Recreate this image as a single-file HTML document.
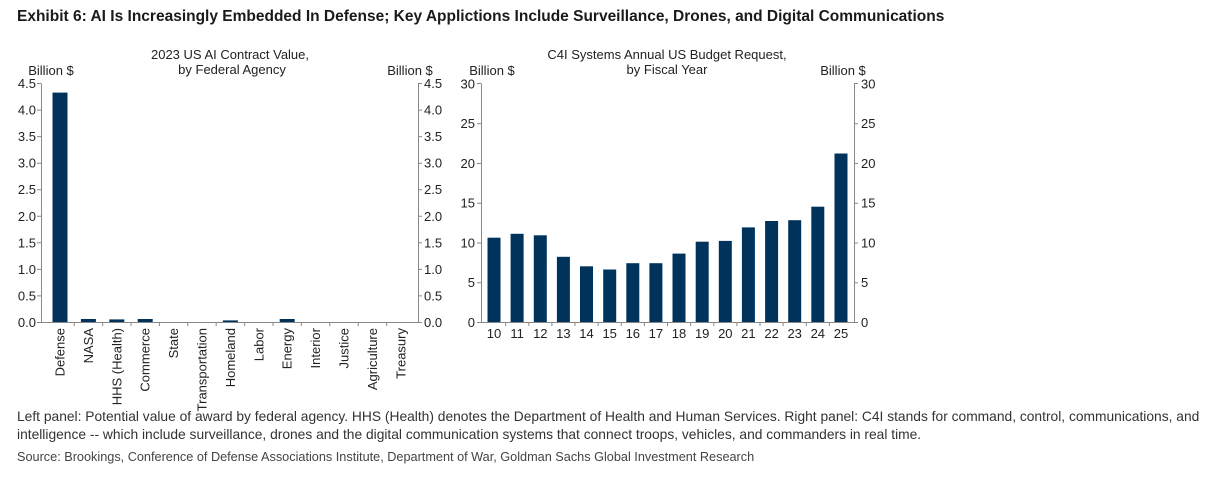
<!DOCTYPE html>
<html><head><meta charset="utf-8"><style>
body{margin:0;background:#fff;width:1215px;height:483px;overflow:hidden}
svg{display:block}
</style></head><body>
<svg width="1215" height="483" xmlns="http://www.w3.org/2000/svg" font-family="Liberation Sans, Arial, sans-serif">
<text x="17" y="21" font-size="15.5" font-weight="bold" fill="#1a1a1a">Exhibit 6: AI Is Increasingly Embedded In Defense; Key Applictions Include Surveillance, Drones, and Digital Communications</text>
<g font-size="13" fill="#222">
<text x="230" y="59" text-anchor="middle">2023 US AI Contract Value,</text>
<text x="232" y="74" text-anchor="middle">by Federal Agency</text>
<text x="51" y="75" text-anchor="middle">Billion $</text>
<text x="410" y="75" text-anchor="middle">Billion $</text>
<text x="667" y="59" text-anchor="middle">C4I Systems Annual US Budget Request,</text>
<text x="667" y="74" text-anchor="middle">by Fiscal Year</text>
<text x="492" y="75" text-anchor="middle">Billion $</text>
<text x="843" y="75" text-anchor="middle">Billion $</text>
</g>
<g stroke="#888" stroke-width="1" fill="none">
<path d="M41.5 83.5V322.5H418.5V83.5"/>
<path d="M481.5 83.5V322.5H854.5V83.5"/>
<path d="M37 322.5h4M37 295.9h4M37 269.4h4M37 242.8h4M37 216.3h4M37 189.7h4M37 163.2h4M37 136.6h4M37 110.1h4M37 83.5h4"/>
<path d="M418 322.5h4M418 295.9h4M418 269.4h4M418 242.8h4M418 216.3h4M418 189.7h4M418 163.2h4M418 136.6h4M418 110.1h4M418 83.5h4"/>
<path d="M74.2 322v4M102.6 322v4M131 322v4M159.4 322v4M187.8 322v4M216.2 322v4M244.6 322v4M273 322v4M301.4 322v4M329.8 322v4M358.2 322v4M386.6 322v4"/>
<path d="M477 322.5h4M477 282.7h4M477 243h4M477 203.2h4M477 163.5h4M477 123.7h4M477 83.5h4"/>
<path d="M854 322.5h4M854 282.7h4M854 243h4M854 203.2h4M854 163.5h4M854 123.7h4M854 83.5h4"/>
<path d="M505.6 322v4M528.8 322v4M551.9 322v4M575 322v4M598.1 322v4M621.3 322v4M644.4 322v4M667.5 322v4M690.6 322v4M713.8 322v4M736.9 322v4M760 322v4M783.1 322v4M806.3 322v4M829.4 322v4"/>
</g>
<g font-size="13" fill="#222" text-anchor="end">
<text x="36" y="327">0.0</text><text x="36" y="300.4">0.5</text><text x="36" y="273.9">1.0</text><text x="36" y="247.3">1.5</text><text x="36" y="220.8">2.0</text><text x="36" y="194.2">2.5</text><text x="36" y="167.7">3.0</text><text x="36" y="141.1">3.5</text><text x="36" y="114.6">4.0</text><text x="36" y="88">4.5</text>
<text x="475" y="327">0</text><text x="475" y="287.2">5</text><text x="475" y="247.5">10</text><text x="475" y="207.7">15</text><text x="475" y="168">20</text><text x="475" y="128.2">25</text><text x="475" y="88.5">30</text>
</g>
<g font-size="13" fill="#222">
<text x="424" y="327">0.0</text><text x="424" y="300.4">0.5</text><text x="424" y="273.9">1.0</text><text x="424" y="247.3">1.5</text><text x="424" y="220.8">2.0</text><text x="424" y="194.2">2.5</text><text x="424" y="167.7">3.0</text><text x="424" y="141.1">3.5</text><text x="424" y="114.6">4.0</text><text x="424" y="88">4.5</text>
<text x="861" y="327">0</text><text x="861" y="287.2">5</text><text x="861" y="247.5">10</text><text x="861" y="207.7">15</text><text x="861" y="168">20</text><text x="861" y="128.2">25</text><text x="861" y="88.5">30</text>
</g>
<g fill="#00335c">
<rect x="52.5" y="92.6" width="15" height="229.4"/>
<rect x="80.9" y="319" width="15" height="3"/>
<rect x="109.3" y="319.4" width="15" height="2.6"/>
<rect x="137.7" y="319" width="15" height="3"/>
<rect x="222.9" y="320.4" width="15" height="1.6"/>
<rect x="279.7" y="319" width="15" height="3"/>
<rect x="487.5" y="237.7" width="13" height="84.3"/>
<rect x="510.6" y="233.8" width="13" height="88.2"/>
<rect x="533.8" y="235.3" width="13" height="86.7"/>
<rect x="556.9" y="256.8" width="13" height="65.2"/>
<rect x="580" y="266.3" width="13" height="55.7"/>
<rect x="603.2" y="269.5" width="13" height="52.5"/>
<rect x="626.3" y="263.2" width="13" height="58.8"/>
<rect x="649.4" y="263.2" width="13" height="58.8"/>
<rect x="672.5" y="253.6" width="13" height="68.4"/>
<rect x="695.7" y="241.7" width="13" height="80.3"/>
<rect x="718.8" y="240.9" width="13" height="81.1"/>
<rect x="741.9" y="227.4" width="13" height="94.6"/>
<rect x="765.1" y="221" width="13" height="101"/>
<rect x="788.2" y="220.2" width="13" height="101.8"/>
<rect x="811.3" y="206.7" width="13" height="115.3"/>
<rect x="834.5" y="153.5" width="13" height="168.5"/>
</g>
<g font-size="13" fill="#222" text-anchor="end">
<text transform="translate(64.5,328) rotate(-90)">Defense</text>
<text transform="translate(92.9,328) rotate(-90)">NASA</text>
<text transform="translate(121.3,328) rotate(-90)">HHS (Health)</text>
<text transform="translate(149.7,328) rotate(-90)">Commerce</text>
<text transform="translate(178.1,328) rotate(-90)">State</text>
<text transform="translate(206.5,328) rotate(-90)">Transportation</text>
<text transform="translate(234.9,328) rotate(-90)">Homeland</text>
<text transform="translate(263.3,328) rotate(-90)">Labor</text>
<text transform="translate(291.7,328) rotate(-90)">Energy</text>
<text transform="translate(320.1,328) rotate(-90)">Interior</text>
<text transform="translate(348.5,328) rotate(-90)">Justice</text>
<text transform="translate(376.9,328) rotate(-90)">Agriculture</text>
<text transform="translate(405.3,328) rotate(-90)">Treasury</text>
</g>
<g font-size="13" fill="#222" text-anchor="middle">
<text x="494" y="338">10</text><text x="517.1" y="338">11</text><text x="540.3" y="338">12</text><text x="563.4" y="338">13</text><text x="586.5" y="338">14</text><text x="609.7" y="338">15</text><text x="632.8" y="338">16</text><text x="655.9" y="338">17</text><text x="679" y="338">18</text><text x="702.2" y="338">19</text><text x="725.3" y="338">20</text><text x="748.4" y="338">21</text><text x="771.6" y="338">22</text><text x="794.7" y="338">23</text><text x="817.8" y="338">24</text><text x="841" y="338">25</text>
</g>
<g font-size="13.8" fill="#333">
<text x="17" y="421">Left panel: Potential value of award by federal agency. HHS (Health) denotes the Department of Health and Human Services. Right panel: C4I stands for command, control, communications, and</text>
<text x="17" y="439">intelligence -- which include surveillance, drones and the digital communication systems that connect troops, vehicles, and commanders in real time.</text>
<text x="17" y="461" font-size="12.7" fill="#444">Source: Brookings, Conference of Defense Associations Institute, Department of War, Goldman Sachs Global Investment Research</text>
</g>
</svg>
</body></html>
